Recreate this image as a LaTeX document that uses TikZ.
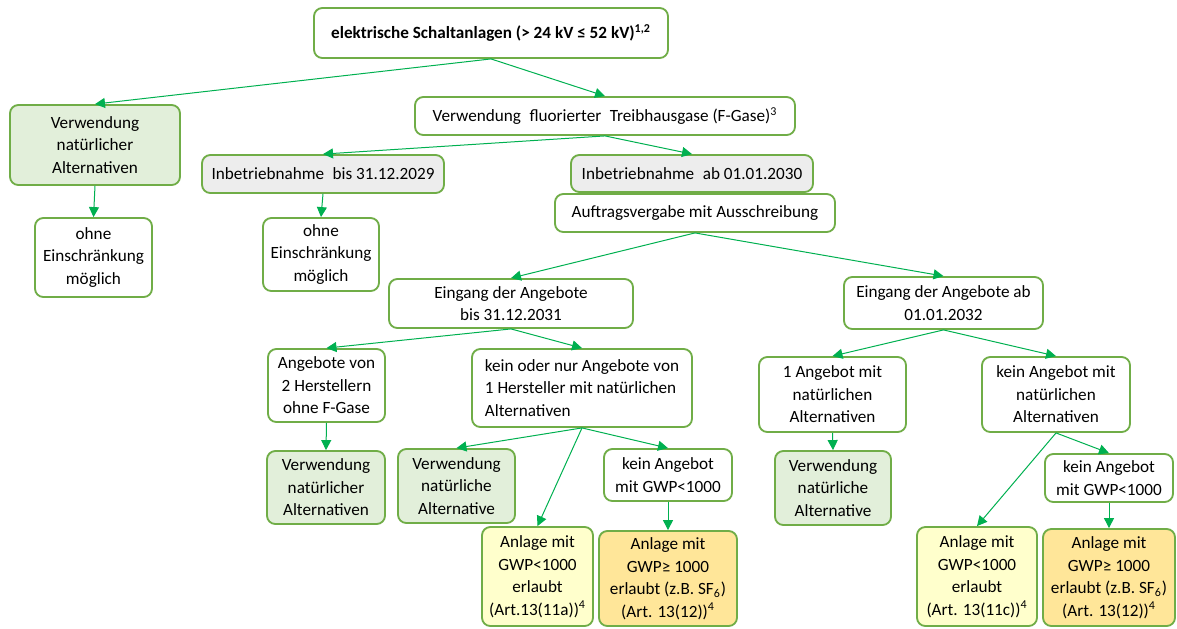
\documentclass[tikz,border=0pt]{standalone}
\usepackage{fontspec}
\setmainfont{Carlito}
\usepackage{xcolor}
\usepackage{tikz}
\usetikzlibrary{positioning,arrows.meta}
\definecolor{RandGruen}{RGB}{112,173,71}
\definecolor{PfeilGruen}{RGB}{0,176,80}
\definecolor{FeldGruen}{RGB}{226,239,218}
\definecolor{FeldGrau}{RGB}{237,237,237}
\definecolor{FeldGelb}{RGB}{255,255,204}
\definecolor{FeldOrange}{RGB}{255,230,153}

\begin{document}
\begin{tikzpicture}[
		x=0.6pt, y=-0.6pt,
		gr/.style 2 args={minimum width=#1*0.6pt, minimum height=#2*0.6pt},
		kasten/.style={draw=RandGruen, line width=1.1pt, rounded corners=5pt, fill=white,
			align=center, inner sep=0pt, font=\fontsize{10.3}{13.5}\selectfont},
		gruen/.style={kasten, fill=FeldGruen},
		grau/.style={kasten, fill=FeldGrau},
		gelb/.style={kasten, fill=FeldGelb},
		orange/.style={kasten, fill=FeldOrange},
		pfeil/.style={draw=PfeilGruen, line width=0.6pt, -{Triangle[length=6pt,width=6pt]}}
		]
		\useasboundingbox (0,0) rectangle (1177,628);
		
		% ===== obere Ebenen =====
		\node[kasten, gr={354}{50}] (top) at (491,33) {\bfseries elektrische Schaltanlagen (> 24 kV ≤ 52 kV)\textsuperscript{1,2}};
		\node[gruen, gr={170}{80}] (natL) at (95,145) {Verwendung\\natürlicher\\Alternativen};
		\node[kasten, gr={117}{79}] (ohneL) at (93.5,257.5) {ohne\\Einschränkung\\möglich};
		\node[kasten, gr={380}{38}] (fgas) at (605,116) {Verwendung\enspace fluorierter\enspace Treibhausgase (F-Gase)\textsuperscript{3}};
		\node[grau, gr={242}{38}] (bis29) at (323,174) {Inbetriebnahme\enspace bis 31.12.2029};
		\node[kasten, gr={116}{73}] (ohneM) at (321,254.5) {ohne\\Einschränkung\\möglich};
		\node[grau, gr={242}{37}] (ab30) at (692,173.5) {Inbetriebnahme\enspace ab 01.01.2030};
		\node[kasten, gr={280}{38}] (auftrag) at (695,213) {Auftragsvergabe mit Ausschreibung};
		
		% ===== Eingang der Angebote =====
		\node[kasten, gr={244}{49}] (eingBis) at (511,303.5) {Eingang der Angebote\\bis 31.12.2031};
		\node[kasten, gr={199}{52}] (eingAb) at (943.5,303) {Eingang der Angebote ab\\01.01.2032};
		\node[kasten, gr={117}{73}] (zweiH) at (326.5,385.5) {Angebote von\\2 Herstellern\\ohne F-Gase};
		\node[kasten, gr={220}{78}, align=left] (keinOder) at (582,388) {kein oder nur Angebote von\\1 Hersteller mit natürlichen\\Alternativen};
		\node[kasten, gr={147}{75}] (einAng) at (832.5,394.5) {1 Angebot mit\\natürlichen\\Alternativen};
		\node[kasten, gr={148}{75}] (keinAng) at (1056,394.5) {kein Angebot mit\\natürlichen\\Alternativen};
		
		% ===== Ergebnisse =====
		\node[gruen, gr={118}{73}] (natM) at (326,487.5) {Verwendung\\natürlicher\\Alternativen};
		\node[gruen, gr={117}{74}] (altM) at (456.5,486) {Verwendung\\natürliche\\Alternative};
		\node[kasten, gr={128}{52}] (gwpM) at (668,475) {kein Angebot\\mit GWP<1000};
		\node[gelb, gr={111}{99}] (erlM) at (537.5,576.5) {Anlage mit\\GWP<1000\\erlaubt\\(Art.13(11a))\textsuperscript{4}};
		\node[orange, gr={138}{95}] (sfM) at (668,578.5) {Anlage mit\\GWP≥ 1000\\erlaubt (z.B. SF\textsubscript{6})\\(Art. 13(12))\textsuperscript{4}};
		\node[gruen, gr={116}{74}] (altR) at (833,488) {Verwendung\\natürliche\\Alternative};
		\node[kasten, gr={128}{48}] (gwpR) at (1109,478) {kein Angebot\\mit GWP<1000};
		\node[gelb, gr={120}{99}] (erlR) at (977,576.5) {Anlage mit\\GWP<1000\\erlaubt\\(Art. 13(11c))\textsuperscript{4}};
		\node[orange, gr={132}{97}] (sfR) at (1109,577.5) {Anlage mit\\GWP≥ 1000\\erlaubt (z.B. SF\textsubscript{6})\\(Art. 13(12))\textsuperscript{4}};
		
		% ===== Pfeile =====
		\foreach \a/\b in {top/natL, top/fgas, fgas/bis29, fgas/ab30, natL/ohneL, bis29/ohneM,
			auftrag/eingBis, auftrag/eingAb, eingBis/zweiH, eingBis/keinOder, eingAb/einAng, eingAb/keinAng,
			zweiH/natM, keinOder/altM, keinOder/erlM, keinOder/gwpM, gwpM/sfM, einAng/altR,
			keinAng/erlR, keinAng/gwpR, gwpR/sfR}{
			\draw[pfeil] (\a.south) -- (\b.north);
		}
		
	\end{tikzpicture}
\end{document}
